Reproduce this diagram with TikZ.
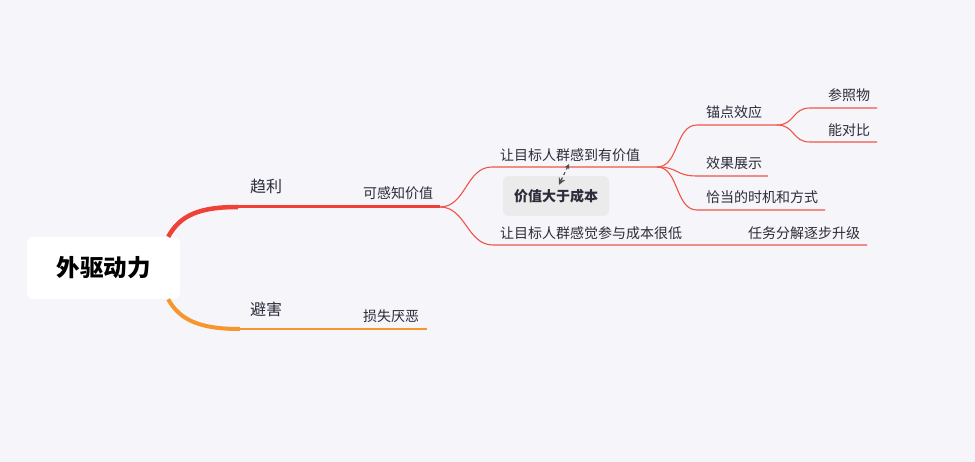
\documentclass[tikz,border=0pt]{standalone}
\usepackage{fontspec}
\setmainfont{Noto Sans CJK SC}
\usetikzlibrary{arrows.meta}

% colours of the map
\definecolor{bgcol}{HTML}{F5F5FA}
\definecolor{txtcol}{HTML}{2C2C3A}
\definecolor{redmain}{HTML}{EF4136}
\definecolor{linered}{HTML}{F0554A}
\definecolor{orangemain}{HTML}{F7962F}
\definecolor{notegray}{HTML}{EBEBEB}

\tikzset{
  topic/.style={anchor=west, inner sep=0pt, text=txtcol, font=\fontsize{14}{16}\selectfont},
  maintopic/.style={topic, font=\fontsize{16}{18}\selectfont},
  subline/.style={draw=linered, line width=1.1pt},
}

\begin{document}
\begin{tikzpicture}[x=1pt,y=-1pt,
  rootbox/.style={fill=white, rounded corners=6pt, minimum width=153pt, minimum height=62pt,
    inner sep=0pt, text=black, font=\fontsize{23.5}{26}\selectfont\bfseries},
  notebox/.style={fill=notegray, rounded corners=6pt, minimum width=106pt, minimum height=40pt,
    inner sep=0pt, text=txtcol, font=\fontsize{14}{16}\selectfont\bfseries},
  relarrow/.style={draw=gray!60!black, dashed, line width=1.2pt,
    {Stealth[length=5pt,width=5pt]}-{Stealth[length=7pt,width=7pt]}}]

% background and size
\fill[bgcol] (0,0) rectangle (975,462);
\useasboundingbox (0,0) rectangle (975,462);

% the root
\node[rootbox] (root) at (103.5,268) {外驱动力};

% ends of the lines under each topic
\coordinate (qlA) at (238,207);
\coordinate (qlB) at (440,207);
\coordinate (bhA) at (240,329);
\coordinate (bhB) at (427,329);
\coordinate (v1A) at (492,167);
\coordinate (v1B) at (657,167);
\coordinate (v2A) at (493,245);
\coordinate (v2B) at (867,245);
\coordinate (m1A) at (697,125);
\coordinate (m1B) at (777,125);
\coordinate (m2A) at (697,176);
\coordinate (m2B) at (768,176);
\coordinate (m3A) at (697,210);
\coordinate (m3B) at (825,210);
\coordinate (r1A) at (810,108);
\coordinate (r1B) at (877,108);
\coordinate (r2A) at (810,142);
\coordinate (r2B) at (877,142);

% main branches
\draw[redmain, line width=4.5pt] ([xshift=-12pt]root.north east) .. controls +(12,-22) and +(-38,0) .. (qlA);
\draw[redmain, line width=3pt] (qlA) -- (qlB);
\draw[orangemain, line width=4pt] ([xshift=-12pt]root.south east) .. controls +(12,22) and +(-38,0) .. (bhA);
\draw[orangemain, line width=2.2pt] (bhA) -- (bhB);

% sub branches
\draw[subline] (qlB) .. controls +(26,0) and +(-26,0) .. (v1A) -- (v1B);
\draw[subline] (qlB) .. controls +(26,0) and +(-26,0) .. (v2A) -- (v2B);
\draw[subline] (v1B) .. controls +(22,0) and +(-22,0) .. (m1A) -- (m1B);
\draw[subline] (v1B) .. controls +(22,0) and +(-22,0) .. (m2A) -- (m2B);
\draw[subline] (v1B) .. controls +(22,0) and +(-22,0) .. (m3A) -- (m3B);
\draw[subline] (m1B) .. controls +(18,0) and +(-18,0) .. (r1A) -- (r1B);
\draw[subline] (m1B) .. controls +(18,0) and +(-18,0) .. (r2A) -- (r2B);

% labels
\node[maintopic] (qlText) at (250,186) {趋利};
\node[maintopic] (bhText) at (250,309) {避害};
\node[topic] (kgText) at (363,193) {可感知价值};
\node[topic] (ssText) at (363,316) {损失厌恶};
\node[topic] (v1Text) at (500,155) {让目标人群感到有价值};
\node[topic] (v2Text) at (500,233) {让目标人群感觉参与成本很低};
\node[topic] (rwText) at (748,233) {任务分解逐步升级};
\node[topic] (m1Text) at (706,112) {锚点效应};
\node[topic] (m2Text) at (706,163) {效果展示};
\node[topic] (m3Text) at (706,197) {恰当的时机和方式};
\node[topic] (r1Text) at (828,95) {参照物};
\node[topic] (r2Text) at (828,130) {能对比};

% the note and its link
\node[notebox] (note) at (556,196) {价值大于成本};
\coordinate (relS) at (569,164);
\draw[relarrow] (relS) -- ([shift={(3,9)}]note.north);
\end{tikzpicture}
\end{document}
